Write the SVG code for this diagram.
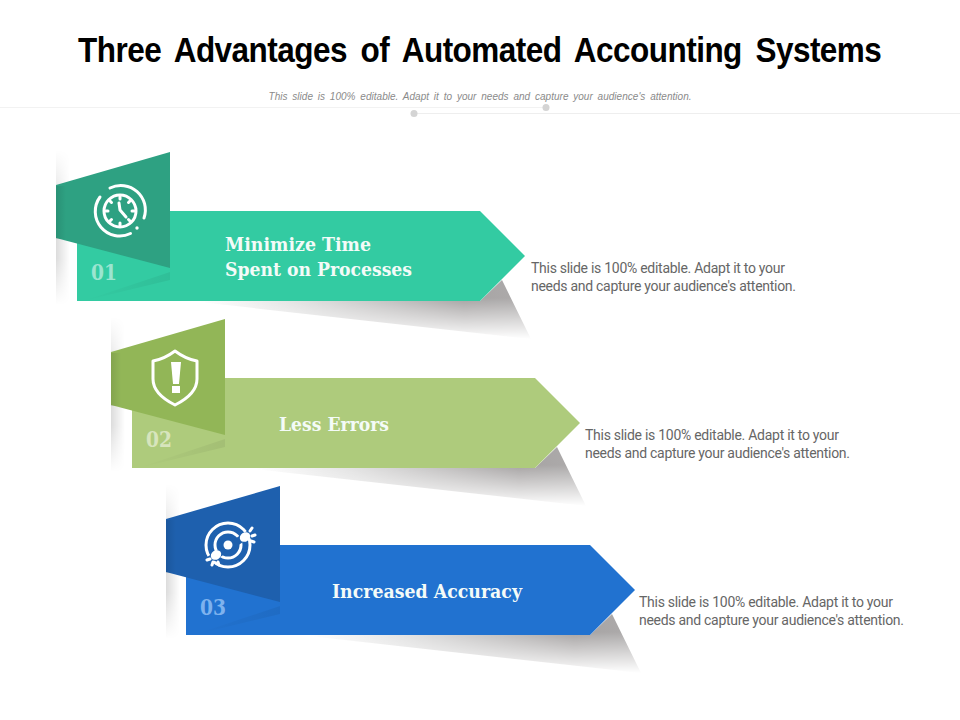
<svg xmlns="http://www.w3.org/2000/svg" xmlns:xlink="http://www.w3.org/1999/xlink" width="960" height="720" viewBox="0 0 960 720">
<style>
.title{font:bold 35px "Liberation Sans",Arial,sans-serif;fill:#000;word-spacing:6px}
.sub{font:italic 10px "Liberation Sans",Arial,sans-serif;fill:#8a8a8a;word-spacing:2px}
.head{font:bold 18px "DejaVu Serif Condensed","DejaVu Serif","Liberation Serif",serif;font-stretch:condensed;fill:#f4fbf8}
.num{font:bold 22px "DejaVu Serif Condensed","DejaVu Serif","Liberation Serif",serif;font-stretch:condensed}
.desc{font:14px "Roboto","Liberation Sans",sans-serif;fill:#666}
.ic{fill:none;stroke:#fff;stroke-width:3;stroke-linecap:round;stroke-linejoin:round}
.if{fill:#fff}
</style>
<defs>
<linearGradient id="shH" gradientUnits="userSpaceOnUse" x1="200" x2="530" y1="0" y2="0"><stop offset="0" stop-color="#fff"/><stop offset="0.3" stop-color="#e0e0e0"/><stop offset="0.8" stop-color="#a6a3a3"/><stop offset="1" stop-color="#aeacac"/></linearGradient>
<linearGradient id="fadeV" gradientUnits="userSpaceOnUse" x1="0" x2="0" y1="298" y2="339"><stop offset="0" stop-color="#fff"/><stop offset="1" stop-color="#000"/></linearGradient>
<linearGradient id="sideH" x1="0" x2="1" y1="0" y2="0"><stop offset="0" stop-color="#000" stop-opacity="0.1"/><stop offset="1" stop-color="#000" stop-opacity="0"/></linearGradient>
<linearGradient id="sideF" gradientUnits="userSpaceOnUse" x1="56" x2="70" y1="0" y2="0"><stop offset="0" stop-color="#dcdcdc"/><stop offset="1" stop-color="#fff"/></linearGradient>
<linearGradient id="sideV" gradientUnits="userSpaceOnUse" x1="0" x2="0" y1="150" y2="305"><stop offset="0" stop-color="#000"/><stop offset="0.4" stop-color="#fff"/><stop offset="0.7" stop-color="#fff"/><stop offset="1" stop-color="#000"/></linearGradient>
<linearGradient id="foldG" x1="0" x2="1" y1="0" y2="0"><stop offset="0" stop-color="#000" stop-opacity="0"/><stop offset="1" stop-color="#000" stop-opacity="0.06"/></linearGradient>
<mask id="m" maskUnits="userSpaceOnUse" x="150" y="270" width="400" height="80"><rect x="150" y="270" width="400" height="80" fill="url(#fadeV)"/></mask>
<mask id="ms" maskUnits="userSpaceOnUse" x="50" y="145" width="30" height="165"><rect x="50" y="145" width="30" height="165" fill="url(#sideV)"/></mask>
<g id="shadow"><polygon points="190,301 480,301 502,280 531,339" fill="url(#shH)" mask="url(#m)"/></g>
<g id="side"><rect x="56" y="150" width="14" height="155" fill="url(#sideF)" mask="url(#ms)"/></g>
</defs>

<text class="title" transform="scale(0.9,1)" x="533.300" y="62" text-anchor="middle" textLength="893" lengthAdjust="spacing">Three Advantages of Automated Accounting Systems</text>
<text class="sub" x="480" y="100" text-anchor="middle" textLength="423" lengthAdjust="spacing">This slide is 100% editable. Adapt it to your needs and capture your audience's attention.</text>
<g id="divider">
<line x1="0" y1="107.5" x2="546" y2="107.5" stroke="#f2f2f2"/>
<line x1="414" y1="113.5" x2="960" y2="113.5" stroke="#eeeeee"/>
<circle cx="546" cy="107.5" r="3.5" fill="#d4d4d4"/>
<circle cx="414" cy="113.5" r="3.5" fill="#d4d4d4"/>
</g>

<g id="connectors"></g>

<g id="node1">
<use xlink:href="#shadow"/>
<use xlink:href="#side"/>
<polygon points="77,211 480,211 525,256 480,301 77,301" fill="#33cba2"/>
<polygon points="83,301 170,272 170,280" fill="url(#foldG)"/>
<polygon points="56,185 170,152 170,268 56,238" fill="#2ea182"/>
<rect x="56" y="186" width="10" height="53" fill="url(#sideH)"/>
<text class="num" x="91" y="280" fill="#9be5d0" textLength="26" lengthAdjust="spacingAndGlyphs">01</text>
<text class="head" x="225" y="251" textLength="146" lengthAdjust="spacingAndGlyphs">Minimize Time</text>
<text class="head" x="225" y="276" textLength="187" lengthAdjust="spacingAndGlyphs">Spent on Processes</text>
<text class="desc" x="531" y="273" textLength="254">This slide is 100% editable. Adapt it to your</text>
<text class="desc" x="531" y="291" textLength="265">needs and capture your audience's attention.</text>
<g id="icon1">
<path class="ic" d="M110 188 A24.5 24.5 0 0 1 144 218"/>
<path class="ic" d="M130.500 233.500 A24.5 24.500 0 0 1 100 197"/>
<circle class="if" cx="137" cy="228" r="1.700"/>
<circle class="ic" cx="120" cy="211" r="16"/>
<path class="ic" stroke-width="2.500" d="M119 203 L120 210 L126 217"/>
<path class="ic" stroke-width="2.500" d="M120 197v2M120 223v2M106 211h2M132 211h2M110 201l1.500 1.500M130 201l-1.500 1.500M110 221l1.500-1.500M130 221l-1.500-1.500"/>
</g>
</g>

<g id="node2" transform="translate(55,167)">
<use xlink:href="#shadow"/>
<use xlink:href="#side"/>
<polygon points="77,211 480,211 525,256 480,301 77,301" fill="#aecb7c"/>
<polygon points="83,301 170,272 170,280" fill="url(#foldG)"/>
<polygon points="56,185 170,152 170,268 56,238" fill="#92b657"/>
<rect x="56" y="186" width="10" height="53" fill="url(#sideH)"/>
<text class="num" x="91" y="280" fill="#d7e5bd" textLength="26" lengthAdjust="spacingAndGlyphs">02</text>
<text class="head" x="224" y="264" textLength="110" lengthAdjust="spacingAndGlyphs">Less Errors</text>
<text class="desc" x="530" y="273" textLength="254">This slide is 100% editable. Adapt it to your</text>
<text class="desc" x="530" y="291" textLength="265">needs and capture your audience's attention.</text>
<g id="icon2">
<path class="ic" d="M120 184 C128 190 136 193 142 194 V212 C142 224 132 232 120 238 C108 232 98 224 98 212 V194 C104 193 112 190 120 184 Z"/>
<polygon class="if" points="116,195 126,195 124,217 118,217"/>
<rect class="if" x="117" y="219" width="8" height="7"/>
</g>
</g>

<g id="node3" transform="translate(110,334)">
<use xlink:href="#shadow"/>
<use xlink:href="#side"/>
<polygon points="76,211 480,211 525,256 480,301 76,301" fill="#2172d0"/>
<polygon points="83,301 170,272 170,280" fill="url(#foldG)"/>
<polygon points="56,185 170,152 170,268 56,238" fill="#1e60ae"/>
<rect x="56" y="186" width="10" height="53" fill="url(#sideH)"/>
<text class="num" x="90" y="281" fill="#7eb2ee" textLength="26" lengthAdjust="spacingAndGlyphs">03</text>
<text class="head" x="222" y="264" textLength="190" lengthAdjust="spacingAndGlyphs">Increased Accuracy</text>
<text class="desc" x="529" y="273" textLength="254">This slide is 100% editable. Adapt it to your</text>
<text class="desc" x="529" y="291" textLength="265">needs and capture your audience's attention.</text>
<g id="icon3">
<circle class="ic" stroke-width="3.500" cx="118" cy="211" r="22"/>
<circle class="ic" stroke-width="3.500" cx="118" cy="211" r="13"/>
<line x1="99" y1="226" x2="142" y2="198" stroke="#1e60ae" stroke-width="7"/>
<circle cx="118" cy="211" r="7" fill="#1e60ae"/>
<circle class="if" cx="118" cy="211" r="4.500"/>
<ellipse class="if" cx="135" cy="203" rx="5.500" ry="4.500" transform="rotate(-35 135 203)"/>
<ellipse class="if" cx="106" cy="221" rx="5.500" ry="4.500" transform="rotate(-35 106 221)"/>
<path class="ic" stroke-width="1.500" d="M140 197l2-3M142 202l3-1M141 207l3 1M100 225l-3 1M103 228l-1 3M108 228l1 3"/>
</g>
</g>
</svg>
